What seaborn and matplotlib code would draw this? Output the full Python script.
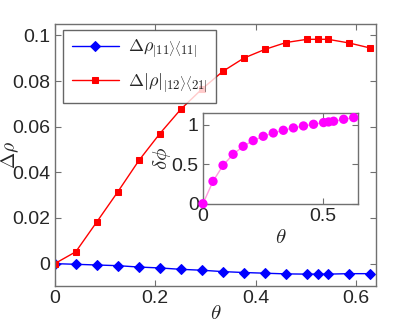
import numpy as np
import pandas as pd
import matplotlib
matplotlib.use("Agg")
import matplotlib.pyplot as plt
from matplotlib.ticker import FormatStrFormatter
import seaborn as sns

# theta samples: k*pi/75 (k=0..15) with pi/6 added
theta = [0.0, 0.0419, 0.0838, 0.1257, 0.1676, 0.2094, 0.2513, 0.2932, 0.3351,
         0.3770, 0.4189, 0.4608, 0.5027, 0.5236, 0.5445, 0.5864, 0.6283]
d_rho_11 = [0.0, -0.0003, -0.0006, -0.0009, -0.0015, -0.0019, -0.0025, -0.0029,
            -0.0035, -0.0039, -0.0042, -0.0045, -0.0046, -0.0046, -0.0046,
            -0.0044, -0.0044]
d_rho_12 = [0.0, 0.0052, 0.0183, 0.0315, 0.0452, 0.0570, 0.0677, 0.0765, 0.0843,
            0.0901, 0.0939, 0.0969, 0.0983, 0.0983, 0.0983, 0.0967, 0.0945]
d_phi = [0.0, 0.284, 0.487, 0.627, 0.729, 0.801, 0.856, 0.898, 0.932, 0.962,
         0.987, 1.008, 1.030, 1.038, 1.047, 1.072, 1.093]

df = pd.DataFrame({"theta": theta, "r11": d_rho_11, "r12": d_rho_12, "phi": d_phi})

sns.set_style("ticks")
plt.rcParams["font.family"] = ["Liberation Sans", "DejaVu Sans"]
plt.rcParams["mathtext.fontset"] = "cm"


def matlab_box(ax):
    for s in ax.spines.values():
        s.set_color("#707070")
        s.set_linewidth(1.0)
    ax.tick_params(direction="in", top=True, right=True, length=4,
                   color="#707070", labelsize=14, pad=3)


fig = plt.figure(figsize=(4.15, 3.23), dpi=100)
ax = fig.add_axes([0.132, 0.1146, 0.774, 0.811])

sns.lineplot(data=df, x="theta", y="r11", ax=ax, color="#0000ff", marker="D",
             markersize=5.5, markeredgecolor="#0000ff", lw=1.0,
             label=r"$\Delta\rho_{|11\rangle\langle 11|}$")
sns.lineplot(data=df, x="theta", y="r12", ax=ax, color="#ff0000", marker="s",
             markersize=5, markeredgecolor="#ff0000", lw=1.0,
             label=r"$\Delta|\rho|_{|12\rangle\langle 21|}$")

ax.set_xlim(0, 0.64)
ax.set_ylim(-0.0098, 0.105)
ax.set_xticks([0, 0.2, 0.4, 0.6])
ax.set_yticks([0, 0.02, 0.04, 0.06, 0.08, 0.1])
ax.xaxis.set_major_formatter(FormatStrFormatter("%g"))
ax.yaxis.set_major_formatter(FormatStrFormatter("%g"))
ax.set_xlabel(r"$\theta$", fontsize=15, labelpad=-2)
ax.set_ylabel(r"$\Delta\rho$", fontsize=14)
ax.yaxis.set_label_coords(-0.104, 0.5)
matlab_box(ax)

leg = ax.legend(loc="upper left", bbox_to_anchor=(0.027, 0.977), fontsize=13,
                frameon=True, fancybox=False, edgecolor="#404040",
                handlelength=2.6, borderpad=0.45, labelspacing=0.6,
                handletextpad=0.5, borderaxespad=0)
leg.get_frame().set_linewidth(1.0)

ins = fig.add_axes([0.489, 0.3693, 0.3735, 0.28])
ins.set_facecolor("white")
sns.lineplot(data=df, x="theta", y="phi", ax=ins, color="#ff99dd", lw=1.0)
sns.scatterplot(data=df, x="theta", y="phi", ax=ins, color="#ff00ff", s=45,
                edgecolor="none", zorder=3, clip_on=False)
ins.set_xlim(0, 0.646)
ins.set_ylim(0, 1.148)
ins.set_xticks([0, 0.5])
ins.set_yticks([0, 0.5, 1])
ins.xaxis.set_major_formatter(FormatStrFormatter("%g"))
ins.yaxis.set_major_formatter(FormatStrFormatter("%g"))
ins.set_xlabel(r"$\theta$", fontsize=15, labelpad=2)
ins.set_ylabel(r"$\delta\phi$", fontsize=15, labelpad=-1)
matlab_box(ins)

fig.savefig("out.png", dpi=100)
